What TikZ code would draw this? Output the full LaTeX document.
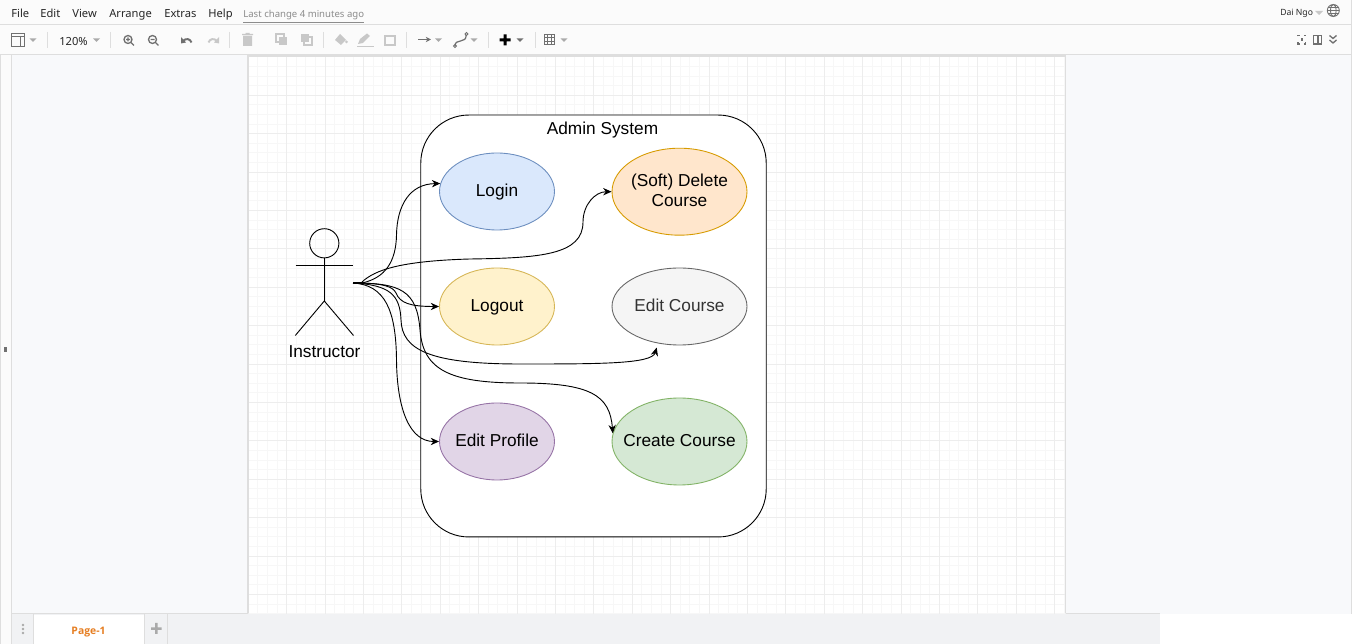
\documentclass[tikz,border=0pt]{standalone}
\usepackage{fontspec}
\setmainfont{Liberation Sans}
\newfontfamily\uifont{Noto Sans}
\newfontfamily\tabfont{Open Sans}
\usetikzlibrary{arrows.meta,shapes.geometric}
\definecolor{barbg}{HTML}{FBFBFB}
\definecolor{canvasbg}{HTML}{F8F9FB}
\definecolor{tabbg}{HTML}{F1F2F4}
\definecolor{sepline}{HTML}{DEDEDE}
\definecolor{iconoff}{HTML}{C8C8C8}
\definecolor{iconon}{HTML}{707070}
\definecolor{pageorange}{HTML}{E67E22}
\definecolor{loginfill}{HTML}{DAE8FC}
\definecolor{loginline}{HTML}{6C8EBF}
\definecolor{deletefill}{HTML}{FFE6CC}
\definecolor{deleteline}{HTML}{D79B00}
\definecolor{logoutfill}{HTML}{FFF2CC}
\definecolor{logoutline}{HTML}{D6B656}
\definecolor{editfill}{HTML}{F5F5F5}
\definecolor{editline}{HTML}{666666}
\definecolor{edittext}{HTML}{333333}
\definecolor{profilefill}{HTML}{E1D5E7}
\definecolor{profileline}{HTML}{9673A6}
\definecolor{createfill}{HTML}{D5E8D4}
\definecolor{createline}{HTML}{82B366}
% keeps the text from widening the ellipse round it
\newcommand{\casetext}[1]{\makebox[0pt]{\raisebox{0pt}[\dimexpr\height+1.14pt\relax]{\begin{tabular}{@{}c@{}}#1\end{tabular}}}}
\tikzset{
  usecase/.style={ellipse,draw,line width=0.5pt,inner sep=0pt,text=black,
    font=\fontsize{9.83pt}{11.4pt}\selectfont},
  smallcase/.style={usecase,minimum width=2.3cm,minimum height=1.54cm},
  widecase/.style={usecase,minimum width=2.7cm,minimum height=1.74cm},
  menuitem/.style={font=\fontsize{6.35pt}{8pt}\uifont,text=black!85,inner sep=0pt,anchor=base west},
  flow/.style={line width=0.52pt,-{Stealth[length=4.8pt,width=4.2pt]}},
  stick/.style={line width=0.52pt,black},
  sepbar/.style={sepline,line width=0.5pt},
  officon/.style={iconoff,line width=0.75pt},
  onicon/.style={iconon,line width=0.75pt},
}
\begin{document}
\begin{tikzpicture}[x=0.02cm,y=-0.02cm]
\useasboundingbox (0,0) rectangle (1352,644);
\clip (0,0) rectangle (1352,644);
% backgrounds
\fill[white] (0,0) rectangle (1352,644);
\fill[barbg] (0,0) rectangle (1352,55);
\fill[barbg] (0,55) rectangle (12,644);
\fill[canvasbg] (12,55) rectangle (1351,614);
\fill[tabbg] (12,614) rectangle (1160,644);
\fill[white] (34,615) rectangle (144,644);
\draw[sepbar] (0,24.5) -- (1352,24.5);
\draw[sepbar] (0,54.5) -- (1352,54.5);
\draw[sepbar] (11.5,55) -- (11.5,644);
\draw[sepbar] (0.4,55) -- (0.4,644);
\draw[sepbar] (1351.5,0) -- (1351.5,614);
\draw[sepbar] (12,613.8) -- (1160,613.8);
\draw[sepbar] (33.5,614) -- (33.5,644);
\draw[sepbar] (144.5,614) -- (144.5,644);
\draw[sepbar] (167.5,614) -- (167.5,644);
\fill[iconon] (4,347) rectangle (7,352);
% page with grid
\fill[white] (248,56) rectangle (1065.5,613.5);
\begin{scope}
\clip (248,56) rectangle (1065.5,613.5);
\foreach \i in {0,...,85} \draw[black!3,line width=0.5pt] ({248.3+9.6*\i},56) -- ({248.3+9.6*\i},614);
\foreach \i in {0,...,58} \draw[black!3,line width=0.5pt] (248,{56.9+9.6*\i}) -- (1066,{56.9+9.6*\i});
\foreach \i in {0,...,21} \draw[black!7,line width=0.5pt] ({248.3+38.4*\i},56) -- ({248.3+38.4*\i},614);
\foreach \i in {0,...,14} \draw[black!7,line width=0.5pt] (248,{56.9+38.4*\i}) -- (1066,{56.9+38.4*\i});
\end{scope}
\draw[black!13,line width=0.7pt] (248,613.5) -- (248,56) -- (1065.5,56) -- (1065.5,613.5);
% menu
\node[menuitem] (mfile) at (11,18) {File};
\node[menuitem] (medit) at (40,18) {Edit};
\node[menuitem] (mview) at (72,18) {View};
\node[menuitem] (marrange) at (109,18) {Arrange};
\node[menuitem] (mextras) at (164,18) {Extras};
\node[menuitem] (mhelp) at (208,18) {Help};
\node[menuitem,text=black!45,font=\fontsize{5.45pt}{8pt}\uifont] (mchange) at (243,18) {\underline{Last change 4 minutes ago}};
\node[menuitem,font=\fontsize{4.9pt}{7pt}\uifont] (muser) at (1280,16) {Dai Ngo};
\fill[iconoff] (1315,11) -- (1323,11) -- (1319,15) -- cycle;
\draw[iconon,line width=0.5pt] (1333.3,10.5) circle (6) (1327.3,10.5) -- (1339.3,10.5)
  (1333.3,10.5) ellipse (2.8 and 6) (1328,7.5) -- (1338.6,7.5) (1328,13.5) -- (1338.6,13.5);
% toolbar separators
\foreach \x in {47.5,110.5,229.5,323,406.5,488,535}
  \draw[sepbar] (\x,32) -- (\x,48);
% drop-down carets
\foreach \x in {33,96.5,438.5,474,564} \fill[iconoff!85!black] (\x-3.5,38.5) -- (\x+3.5,38.5) -- (\x,42) -- cycle;
\fill[iconon] (516.5,38.5) -- (523.5,38.5) -- (520,42) -- cycle;
% toolbar icons
\draw[onicon,line width=0.8pt] (11.5,33.5) rectangle (24.5,46.5) (11.5,36.5) -- (24.5,36.5) (20.5,36.5) -- (20.5,46.5);
\node[menuitem] (zoomlevel) at (59,46) {120\%};
\draw[onicon] (128,39.5) circle (4) (131,42.5) -- (134,45.5) (126,39.5) -- (130,39.5) (128,37.5) -- (128,41.5);
\draw[onicon] (152.5,39.5) circle (4) (155.5,42.5) -- (158.5,45.5) (150.5,39.5) -- (154.5,39.5);
\draw[onicon,line width=1.1pt] (191.5,42.5) .. controls (190,38.5) and (186,38) .. (183,41);
\fill[iconon] (181,37) -- (186,42.5) -- (181,43.5) -- cycle;
\draw[officon,line width=1.1pt] (208.5,42.5) .. controls (210,38.5) and (214,38) .. (217,41);
\fill[iconoff] (219,37) -- (214,42.5) -- (219,43.5) -- cycle;
\fill[iconoff] (243,36) rectangle (252,46) (242,34) rectangle (253,35.2) (245.5,33) rectangle (249.5,34);
\draw[officon] (276,34) rectangle (284,42);
\fill[iconoff] (279,37) rectangle (287,45);
\fill[iconoff] (301,34) rectangle (309,42);
\draw[officon] (304,37) rectangle (312,45);
\fill[iconoff] (340,34) -- (346,40) -- (341,45) -- (335,40) -- cycle;
\fill[iconoff] (346.5,42) circle (1.5);
\fill[iconoff] (358,44) -- (360,39) -- (367,33.5) -- (370,36) -- (363,43) -- cycle;
\fill[iconoff] (357,46) rectangle (374,47.5);
\draw[officon,line width=1pt] (385,36) rectangle (395,45);
\draw[iconon,line width=0.8pt,-{Stealth[length=3pt,width=3pt]}] (418,39.5) -- (431,39.5);
\draw[iconon,line width=0.7pt] (455,46) .. controls (455,38) and (467,44) .. (466,35);
\draw[iconon,line width=0.5pt] (455,46) circle (1.5) (466.5,34) circle (1.5);
\fill[black] (503.5,34.5) rectangle (506.5,45.5) (499.5,38.5) rectangle (510.5,41.5);
\draw[onicon,line width=0.5pt] (544.5,34.5) rectangle (554.4,44.4)
  (547.8,34.5) -- (547.8,44.4) (551.1,34.5) -- (551.1,44.4) (544.5,37.8) -- (554.4,37.8) (544.5,41.1) -- (554.4,41.1);
\draw[onicon] (1298,36.5) -- (1298,35.5) -- (1299.5,35.5) (1304,35.5) -- (1305.5,35.5) -- (1305.5,36.5)
  (1298,42.5) -- (1298,44) -- (1299.5,44) (1304,44) -- (1305.5,44) -- (1305.5,42.5);
\fill[iconon] (1300.5,38) rectangle (1303,41);
\draw[onicon] (1313.5,35.5) rectangle (1321.5,44) (1318,35.5) -- (1318,44);
\draw[onicon] (1329.5,35.5) -- (1333,38.5) -- (1336.5,35.5) (1329.5,40) -- (1333,43) -- (1336.5,40);
% page tab bar
\fill[iconoff!85!black] (23,625) circle (1.3) (23,629) circle (1.3) (23,633) circle (1.3);
\node[menuitem,text=pageorange,font=\fontsize{5.9pt}{8pt}\tabfont\bfseries,anchor=center] (pagetab) at (88.5,632) {Page-1};
\fill[iconoff!85!black] (155,623) rectangle (157.5,634) (151,627.3) rectangle (161.5,629.8);
% system boundary
\node[draw,rectangle,fill=white,line width=0.52pt,rounded corners=0.96cm,minimum width=6.91cm,minimum height=8.44cm,inner sep=0pt] (adminsystem) at (593.5,326) {};
\node[inner sep=0pt,font=\fontsize{9.83pt}{11.4pt}\selectfont] (systemlabel) at (602.5,130.5) {Admin System};
% actor
\draw[stick] (324.3,243.3) circle (14.6);
\draw[stick] (324.3,258) -- (324.3,301);
\draw[stick] (295.5,265.5) -- (353,265.5);
\draw[stick] (295.3,335.5) -- (324.3,301) -- (353.5,335.5);
\node[inner sep=0pt,font=\fontsize{9.83pt}{11.4pt}\selectfont] (instructor) at (324.5,351.5) {Instructor};
\coordinate (hand) at (353,283);
% use cases
\node[smallcase,fill=loginfill,draw=loginline] (login) at (497,191.5) {\casetext{Login}};
\node[widecase,fill=deletefill,draw=deleteline] (softdelete) at (679.5,191.7) {\casetext{(Soft) Delete\\Course}};
\node[smallcase,fill=logoutfill,draw=logoutline] (logout) at (497,306.5) {\casetext{Logout}};
\node[widecase,minimum height=1.54cm,fill=editfill,draw=editline,text=edittext] (editcourse) at (679.5,306.5) {\casetext{Edit Course}};
\node[smallcase,fill=profilefill,draw=profileline] (editprofile) at (497,441.5) {\casetext{Edit Profile}};
\node[widecase,fill=createfill,draw=createline] (createcourse) at (679.5,441.5) {\casetext{Create Course}};
\coordinate (editcourseend) at (656.7,347.5);
% connectors
\draw[line width=1pt] (hand) -- ++(11,0);
\draw[flow] (hand) ++(9,0) .. controls (385,278) and (396,262) .. (396.5,235) .. controls (397,205) and (410,184) .. (login.172);
\draw[flow] (hand) ++(9,-1) .. controls (375,270) and (400,261) .. (470,259) .. controls (540,258) and (583,255) .. (583,222) .. controls (583,205) and (595,191.7) .. (softdelete.west);
\draw[flow] (hand) .. controls (385,283) and (393,287) .. (396,293) .. controls (400,303) and (410,306.5) .. (logout.west);
\draw[flow] (hand) .. controls (390,285) and (400,295) .. (401,320) .. controls (402,350) and (430,364) .. (520,364) .. controls (600,364) and (652,364) .. (editcourseend);
\draw[flow] (hand) .. controls (400,283) and (417,290) .. (420,330) .. controls (423,370) and (450,383) .. (520,383) .. controls (590,383) and (610,395) .. (createcourse.173);
\draw[flow] (hand) .. controls (385,285) and (396,310) .. (396.5,360) .. controls (397,410) and (410,441.5) .. (editprofile.west);
\end{tikzpicture}
\end{document}
